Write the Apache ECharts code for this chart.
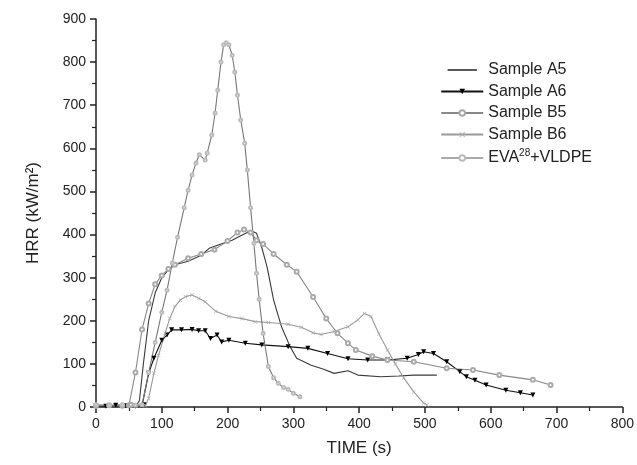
<!DOCTYPE html>
<html>
<head>
<meta charset="utf-8">
<script src="https://cdn.jsdelivr.net/npm/echarts@6/dist/echarts.min.js"></script>
<style>
html,body{margin:0;padding:0;background:#fff;}
#chart{width:637px;height:465px;}
</style>
</head>
<body>
<div id="chart"></div>
<script>
// ---- data ----
var xTicks = [0, 100, 200, 300, 400, 500, 600, 700, 800];
var yTicks = [0, 100, 200, 300, 400, 500, 600, 700, 800, 900];

var a5Time = [0, 20, 40, 55, 62, 66, 72, 80, 90, 100, 110, 120, 140, 160, 172, 190, 207, 217, 230, 237, 244, 252, 260, 270, 282, 295, 305, 327, 345, 362, 383, 398, 433, 460, 483, 518];
var a5HRR  = [2, 3, 2, 3, 5, 15, 100, 200, 265, 300, 318, 330, 338, 352, 368, 378, 387, 395, 405, 408, 403, 370, 325, 248, 186, 140, 113, 97, 88, 78, 84, 74, 70, 72, 74, 74];

var a6Time = [0, 15, 30, 45, 60, 70, 73, 80, 88, 100, 108, 115, 130, 146, 156, 166, 174, 184, 191, 202, 227, 252, 292, 322, 352, 383, 413, 443, 473, 490, 498, 513, 533, 553, 563, 576, 593, 623, 645, 664];
var a6HRR  = [3, 2, 4, 3, 2, 3, 5, 78, 113, 155, 167, 179, 179, 180, 177, 177, 159, 167, 151, 155, 148, 144, 140, 136, 124, 112, 109, 109, 113, 122, 128, 124, 105, 82, 70, 62, 51, 39, 33, 28];

var b5Time = [0, 20, 40, 50, 53, 60, 70, 80, 90, 100, 110, 120, 140, 160, 180, 200, 215, 225, 235, 244, 254, 270, 290, 305, 330, 350, 367, 383, 395, 420, 443, 483, 533, 573, 613, 664, 691];
var b5HRR  = [3, 4, 3, 4, 5, 80, 180, 240, 285, 305, 320, 330, 345, 355, 365, 385, 405, 412, 405, 387, 378, 355, 330, 314, 255, 205, 171, 148, 132, 118, 109, 105, 90, 86, 74, 63, 51];

var b6Time = [0, 20, 40, 60, 75, 80, 88, 95, 105, 112, 120, 128, 136, 146, 156, 166, 182, 202, 222, 242, 262, 292, 312, 330, 342, 362, 383, 398, 408, 418, 430, 443, 455, 468, 483, 498, 503];
var b6HRR  = [4, 3, 4, 3, 3, 20, 78, 120, 171, 205, 233, 248, 256, 260, 252, 244, 222, 210, 205, 198, 196, 192, 185, 172, 168, 175, 186, 202, 217, 210, 170, 132, 100, 67, 35, 9, 5];

var evaTime = [0, 20, 40, 60, 70, 80, 90, 100, 108, 116, 124, 134, 140, 146, 152, 157, 166, 169, 176, 181, 185, 190, 194, 198, 202, 207, 211, 215, 220, 226, 230, 235, 240, 244, 248, 254, 262, 270, 277, 285, 292, 300, 310];
var evaHRR  = [5, 4, 5, 4, 5, 80, 150, 220, 271, 334, 394, 462, 503, 538, 566, 585, 573, 589, 631, 682, 735, 800, 840, 845, 840, 816, 777, 724, 666, 612, 550, 462, 380, 310, 250, 171, 94, 68, 55, 45, 41, 32, 24];

var seriesNames = ['Sample A5', 'Sample A6', 'Sample B5', 'Sample B6', 'EVA28+VLDPE'];

function pairs(t, v) { return t.map(function (x, i) { return [x, v[i]]; }); }

var xSym = 'path://M0,1L1,0L5,4L9,0L10,1L6,5L10,9L9,10L5,6L1,10L0,9L4,5Z';
var lineIcon = 'path://M0,0L0.01,0L0,0.01Z M0,4L42,4L42,6L0,6Z M41.99,10L42,10L42,9.99Z';
var FONT = 'Liberation Sans, Arial, sans-serif';

var chart = echarts.init(document.getElementById('chart'), null, {renderer: 'canvas'});
chart.setOption({
  animation: false,
  backgroundColor: '#fff',
  grid: {left: 96, right: 10, top: 19, bottom: 58},
  legend: {
    orient: 'vertical',
    right: 40,
    top: 57,
    itemWidth: 42,
    itemHeight: 7,
    itemGap: 5.5,
    textStyle: {
      fontFamily: FONT, fontSize: 16, color: '#222',
      rich: {
        sup: {fontFamily: FONT, fontSize: 10, color: '#222', padding: [0, 0, 10, 0]},
        n: {fontFamily: FONT, fontSize: 16, color: '#222'}
      }
    },
    formatter: function (name) {
      if (name === 'EVA28+VLDPE') return '{n|EVA}{sup|28}{n|+VLDPE}';
      return name;
    },
    data: [
      {name: seriesNames[0], icon: lineIcon, itemStyle: {color: '#222'}},
      seriesNames[1], seriesNames[2], seriesNames[3],
      {name: seriesNames[4], lineStyle: {color: '#aaa'}}
    ]
  },
  xAxis: {
    type: 'value', min: 0, max: 800, interval: 100,
    name: 'TIME (s)', nameLocation: 'middle', nameGap: 33,
    nameTextStyle: {fontFamily: FONT, fontSize: 17, color: '#222'},
    axisLine: {show: true, lineStyle: {color: '#222', width: 1.5}},
    axisTick: {show: true, inside: false, length: 6, lineStyle: {color: '#222', width: 1.5}},
    minorTick: {show: true, splitNumber: 2, length: 4, lineStyle: {color: '#222', width: 1.2}},
    axisLabel: {fontFamily: FONT, fontSize: 14, color: '#222', margin: 10,
      formatter: function (v) { return xTicks.indexOf(v) >= 0 ? String(v) : ''; }},
    splitLine: {show: false}
  },
  yAxis: {
    type: 'value', min: 0, max: 900, interval: 100,
    name: 'HRR (kW/m²)', nameLocation: 'middle', nameGap: 54, nameRotate: 90,
    nameTextStyle: {fontFamily: FONT, fontSize: 17, color: '#222'},
    axisLine: {show: true, lineStyle: {color: '#222', width: 1.5}},
    axisTick: {show: true, inside: false, length: 6, lineStyle: {color: '#222', width: 1.5}},
    minorTick: {show: true, splitNumber: 2, length: 4, lineStyle: {color: '#222', width: 1.2}},
    axisLabel: {fontFamily: FONT, fontSize: 14, color: '#222', margin: 10,
      formatter: function (v) { return yTicks.indexOf(v) >= 0 ? String(v) : ''; }},
    splitLine: {show: false}
  },
  series: [
    {name: seriesNames[0], type: 'line', data: pairs(a5Time, a5HRR), symbol: 'none',
      lineStyle: {color: '#3a3a3a', width: 1.1}, itemStyle: {color: '#3a3a3a'}},
    {name: seriesNames[1], type: 'line', data: pairs(a6Time, a6HRR), symbol: 'triangle', symbolRotate: 180, symbolSize: 5,
      lineStyle: {color: '#111', width: 1.1}, itemStyle: {color: '#000'}},
    {name: seriesNames[2], type: 'line', data: pairs(b5Time, b5HRR), symbol: 'emptyCircle', symbolSize: 4,
      lineStyle: {color: '#888', width: 1.1}, itemStyle: {color: '#aaa', borderColor: '#999', borderWidth: 1}},
    {name: seriesNames[3], type: 'line', data: pairs(b6Time, b6HRR), symbol: xSym, symbolSize: 4,
      lineStyle: {color: '#999', width: 1.1}, itemStyle: {color: '#aaa'}},
    {name: seriesNames[4], type: 'line', data: pairs(evaTime, evaHRR), symbol: 'emptyCircle', symbolSize: 3,
      lineStyle: {color: '#777', width: 1.1}, itemStyle: {color: '#bbb', borderColor: '#aaa', borderWidth: 1}}
  ]
});
</script>
</body>
</html>
